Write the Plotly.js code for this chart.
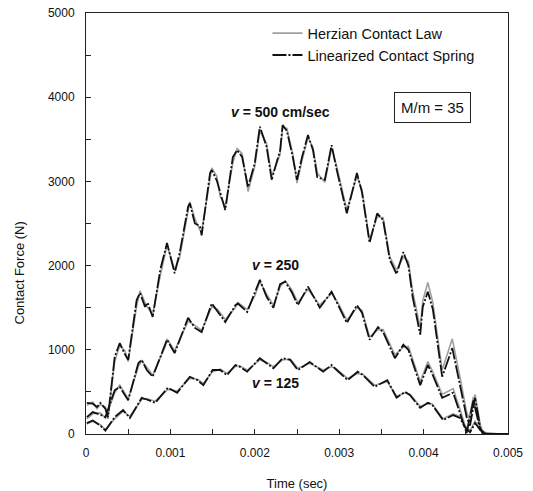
<!DOCTYPE html>
<html>
<head>
<meta charset="utf-8">
<script src="https://cdn.plot.ly/plotly-3.0.1.min.js"></script>
<style>html,body{margin:0;padding:0;background:#fff;}#chart{width:533px;height:491px;}</style>
</head>
<body>
<div id="chart"></div>
<script>
// ---- data (time in s, force in N) ----
var t500 = [0.00001,0.00008,0.00013,0.00017,0.00023,0.00026,0.00034,0.00040,0.00046,0.00050,0.00060,0.00064,0.00070,0.00073,0.00079,0.00088,0.00096,0.00105,0.00111,0.00121,0.00123,0.00129,0.00135,0.00137,0.00147,0.00149,0.00155,0.00159,0.00165,0.00174,0.00179,0.00185,0.00192,0.00200,0.00206,0.00214,0.00220,0.00230,0.00233,0.00238,0.00245,0.00250,0.00256,0.00263,0.00269,0.00274,0.00283,0.00291,0.00297,0.00309,0.00321,0.00327,0.00336,0.00345,0.00352,0.00360,0.00368,0.00376,0.00382,0.00387,0.00396,0.00399,0.00405,0.00411,0.00422,0.00434,0.00443,0.00451,0.00455,0.00461,0.00467,0.00470,0.00491,0.00500];
var lin500 = [370,360,320,370,300,200,915,1080,950,880,1590,1675,1510,1560,1390,1950,2270,1910,2150,2700,2740,2500,2470,2360,3100,3135,3010,2860,2660,3290,3370,3290,2930,3220,3650,3410,3020,3370,3670,3600,3290,3020,3290,3550,3370,3050,3020,3430,3140,2620,3100,2870,2270,2620,2540,2070,1900,2160,2000,1630,1180,1510,1690,1480,680,1020,600,200,100,430,80,0,0,0];
var herz500 = [340,380,300,350,320,180,860,1050,990,860,1520,1700,1560,1500,1420,1880,2240,1950,2100,2650,2760,2560,2420,2400,3020,3160,3060,2820,2700,3220,3390,3330,2880,3180,3600,3450,3060,3320,3640,3630,3330,2980,3250,3520,3400,3100,2990,3400,3180,2660,3060,2900,2300,2580,2570,2100,1950,2100,2050,1700,1260,1580,1800,1560,760,1130,680,260,160,470,120,20,0,0];

var t250 = [0.00001,0.00008,0.00017,0.00023,0.00034,0.00040,0.00050,0.00062,0.00066,0.00072,0.00079,0.00094,0.00096,0.00105,0.00121,0.00129,0.00137,0.00149,0.00156,0.00165,0.00177,0.00180,0.00191,0.00200,0.00206,0.00214,0.00222,0.00230,0.00236,0.00244,0.00251,0.00263,0.00277,0.00291,0.00299,0.00309,0.00321,0.00327,0.00336,0.00346,0.00352,0.00366,0.00376,0.00382,0.00396,0.00405,0.00410,0.00422,0.00435,0.00443,0.00451,0.00459,0.00467,0.00473,0.00500];
var lin250 = [200,260,230,200,520,560,400,840,880,760,680,1080,1120,960,1380,1260,1210,1550,1450,1330,1530,1550,1450,1670,1830,1630,1500,1780,1810,1680,1530,1750,1500,1690,1520,1320,1530,1440,1120,1270,1210,900,1060,1000,580,820,720,430,490,250,10,400,50,0,0];
var herz250 = [180,240,250,190,490,580,420,800,870,790,700,1040,1130,990,1340,1290,1230,1510,1480,1360,1500,1560,1480,1640,1810,1660,1530,1750,1820,1710,1560,1720,1530,1670,1550,1350,1500,1470,1150,1240,1240,940,1030,1040,620,860,760,470,540,300,40,440,70,0,0];

var t125 = [0.00001,0.00008,0.00017,0.00023,0.00034,0.00044,0.00052,0.00066,0.00072,0.00082,0.00097,0.00108,0.00123,0.00132,0.00139,0.00150,0.00159,0.00167,0.00177,0.00182,0.00191,0.00206,0.00214,0.00222,0.00233,0.00242,0.00251,0.00265,0.00281,0.00291,0.00297,0.00310,0.00322,0.00328,0.00342,0.00357,0.00368,0.00378,0.00384,0.00396,0.00405,0.00410,0.00423,0.00435,0.00443,0.00449,0.00455,0.00461,0.00467,0.00475,0.00500];
var lin125 = [130,160,100,40,200,285,190,430,410,370,550,490,680,640,580,760,760,700,820,800,740,900,840,780,900,880,760,855,740,820,760,640,740,700,560,640,430,500,460,310,370,350,165,225,190,80,20,130,50,0,0];
var herz125 = [120,150,110,50,180,270,210,410,420,390,530,510,660,650,600,740,770,720,800,810,760,880,850,800,880,890,780,840,760,800,770,660,720,710,580,620,450,490,470,330,360,360,180,240,210,100,40,150,60,0,0];

var seriesNames = ["Herzian Contact Law", "Linearized Contact Spring"];
var xTickVals = [0, 0.001, 0.002, 0.003, 0.004, 0.005];
var xTickText = ["0", "0.001", "0.002", "0.003", "0.004", "0.005"];
var yTickVals = [0, 1000, 2000, 3000, 4000, 5000];

// ---- styles ----
var herzLine = {color: "#a0a0a0", width: 1.6};
var linLine = {color: "#111111", width: 1.8, dash: "14px,2px,2px,2px"};
var F = "Liberation Sans, Arial, sans-serif";

var traces = [
  {x: t500, y: herz500, name: seriesNames[0], mode: "lines", line: herzLine, showlegend: true, legendgroup: "h"},
  {x: t250, y: herz250, name: seriesNames[0], mode: "lines", line: herzLine, showlegend: false, legendgroup: "h"},
  {x: t125, y: herz125, name: seriesNames[0], mode: "lines", line: herzLine, showlegend: false, legendgroup: "h"},
  {x: t500, y: lin500, name: seriesNames[1], mode: "lines", line: linLine, showlegend: true, legendgroup: "l"},
  {x: t250, y: lin250, name: seriesNames[1], mode: "lines", line: linLine, showlegend: false, legendgroup: "l"},
  {x: t125, y: lin125, name: seriesNames[1], mode: "lines", line: linLine, showlegend: false, legendgroup: "l"}
];

var layout = {
  width: 533, height: 491,
  margin: {l: 86, r: 25, t: 13, b: 57},
  paper_bgcolor: "#fff", plot_bgcolor: "#fff",
  font: {family: F, size: 12, color: "#111"},
  xaxis: {
    range: [0, 0.005], tickmode: "array", tickvals: xTickVals, ticktext: xTickText,
    ticks: "inside", ticklen: 5, tickcolor: "#222",
    minor: {dtick: 0.0005, tick0: 0, ticks: "inside", ticklen: 5, tickcolor: "#222"},
    showgrid: false, zeroline: false, showline: true, linecolor: "#222", linewidth: 1, mirror: true,
    ticklabelstandoff: 8,
    tickfont: {family: F, size: 12, color: "#111"},
    title: {text: "Time (sec)", font: {family: F, size: 13, color: "#111"}, standoff: 20}
  },
  yaxis: {
    range: [0, 5000], tickmode: "array", tickvals: yTickVals,
    ticks: "inside", ticklen: 5, tickcolor: "#222",
    minor: {dtick: 500, tick0: 0, ticks: "inside", ticklen: 5, tickcolor: "#222"},
    showgrid: false, zeroline: false, showline: true, linecolor: "#222", linewidth: 1, mirror: true,
    ticklabelstandoff: 8,
    tickfont: {family: F, size: 12, color: "#111"}
  },
  legend: {
    x: 0.43, y: 0.99, xanchor: "left", yanchor: "top",
    bgcolor: "rgba(255,255,255,0)", borderwidth: 0,
    font: {family: F, size: 14.5, color: "#111"},
    tracegroupgap: 0
  },
  annotations: [
    {text: "Contact Force (N)", textangle: -90, xref: "paper", yref: "paper", x: -0.158, y: 0.382,
     xanchor: "center", yanchor: "middle", showarrow: false, font: {family: F, size: 13, color: "#111"}},
    {text: "<b><i>v</i> = 500 cm/sec</b>", x: 0.00231, y: 3824, xref: "x", yref: "y", showarrow: false,
     font: {family: F, size: 14, color: "#111"}},
    {text: "<b><i>v</i> = 250</b>", x: 0.00225, y: 2007, xref: "x", yref: "y", showarrow: false,
     font: {family: F, size: 14, color: "#111"}},
    {text: "<b><i>v</i> = 125</b>", x: 0.00224, y: 606, xref: "x", yref: "y", showarrow: false,
     font: {family: F, size: 14, color: "#111"}},
    {text: "M/m = 35", x: 0.0041, y: 3872, xref: "x", yref: "y", showarrow: false,
     bordercolor: "#222", borderwidth: 1, borderpad: 6, bgcolor: "#fff",
     font: {family: F, size: 15, color: "#111"}}
  ]
};

Plotly.newPlot("chart", traces, layout, {displayModeBar: false, staticPlot: true});
</script>
</body>
</html>
